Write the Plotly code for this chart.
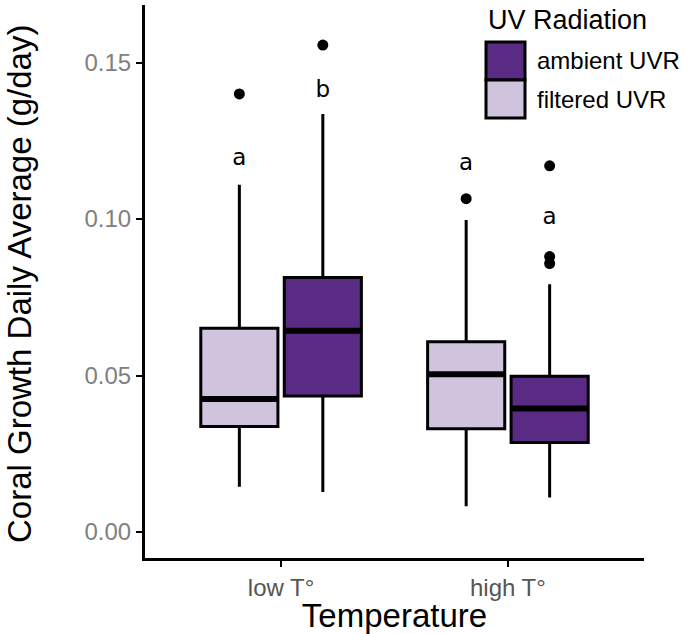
import plotly.graph_objects as go

# categories
temps = ["low T°", "high T°"]

# box statistics (g/day)
filt_q1 = [0.0337, 0.0330]
filt_med = [0.0425, 0.0504]
filt_q3 = [0.0651, 0.0608]
filt_lo = [0.0145, 0.0082]
filt_hi = [0.1110, 0.0997]

amb_q1 = [0.0435, 0.0286]
amb_med = [0.0643, 0.0395]
amb_q3 = [0.0813, 0.0498]
amb_lo = [0.0128, 0.0110]
amb_hi = [0.1336, 0.0792]

# outliers
filt_out_x = ["low T°", "high T°"]
filt_out_y = [0.1400, 0.1065]
amb_out_x = ["low T°", "high T°", "high T°", "high T°"]
amb_out_y = [0.1556, 0.1170, 0.0880, 0.0858]

# significance letters
filt_lab = ["a", "a"]
filt_lab_y = [0.1190, 0.1175]
amb_lab = ["b", "a"]
amb_lab_y = [0.1408, 0.1004]

AMB_COL = "#5a2b85"
FILT_COL = "#d0c3dd"
FONT = "Liberation Sans, Arial, sans-serif"

# plot area in page pixels (used for the hand-drawn legend / title)
W, H = 685, 634
L, R, T, B = 145, 41, 5, 76
PW, PH = W - L - R, H - T - B


def px(x):
    return (x - L) / PW


def py(y):
    return (H - B - y) / PH


fig = go.Figure()

series = [
    ("filtered UVR", FILT_COL, filt_q1, filt_med, filt_q3, filt_lo, filt_hi),
    ("ambient UVR", AMB_COL, amb_q1, amb_med, amb_q3, amb_lo, amb_hi),
]

for name, col, q1, med, q3, lo, hi in series:
    fig.add_trace(go.Box(
        x=temps, q1=q1, median=med, q3=q3, lowerfence=lo, upperfence=hi,
        name=name, offsetgroup=name, fillcolor=col,
        line=dict(color="black", width=3), whiskerwidth=0,
        boxpoints=False, showlegend=False, hoverinfo="skip",
    ))
    # thicker median line, ggplot style
    fig.add_trace(go.Box(
        x=temps, q1=med, median=med, q3=med, lowerfence=med, upperfence=med,
        name=name + " median", offsetgroup=name, fillcolor="black",
        line=dict(color="black", width=6), whiskerwidth=0,
        boxpoints=False, showlegend=False, hoverinfo="skip",
    ))

for name, ox, oy, lab, laby in [
    ("filtered UVR", filt_out_x, filt_out_y, filt_lab, filt_lab_y),
    ("ambient UVR", amb_out_x, amb_out_y, amb_lab, amb_lab_y),
]:
    fig.add_trace(go.Scatter(
        x=ox, y=oy, mode="markers", offsetgroup=name,
        marker=dict(color="black", size=11), showlegend=False,
        hoverinfo="skip", cliponaxis=False,
    ))
    fig.add_trace(go.Scatter(
        x=temps, y=laby, mode="text", text=lab, offsetgroup=name,
        textposition="middle center",
        textfont=dict(family="DejaVu Sans", size=23, color="black"),
        showlegend=False, hoverinfo="skip", cliponaxis=False,
    ))

# legend drawn by hand to get the big ggplot keys
shapes = [
    dict(type="rect", xref="paper", yref="paper",
         x0=px(486), x1=px(525), y0=py(42), y1=py(80),
         fillcolor=AMB_COL, line=dict(color="black", width=3)),
    dict(type="rect", xref="paper", yref="paper",
         x0=px(486), x1=px(525), y0=py(80), y1=py(118),
         fillcolor=FILT_COL, line=dict(color="black", width=3)),
]
annotations = [
    dict(text="UV Radiation", x=px(486), y=py(20), xref="paper", yref="paper",
         xanchor="left", yanchor="middle", showarrow=False,
         font=dict(family=FONT, size=27, color="black")),
    dict(text="ambient UVR", x=px(535), y=py(61), xref="paper", yref="paper",
         xanchor="left", yanchor="middle", showarrow=False,
         font=dict(family=FONT, size=24, color="black")),
    dict(text="filtered UVR", x=px(535), y=py(99), xref="paper", yref="paper",
         xanchor="left", yanchor="middle", showarrow=False,
         font=dict(family=FONT, size=24, color="black")),
    # y title as annotation so it can sit right at the left edge
    dict(text="Coral Growth Daily Average (g/day)", textangle=-90,
         x=px(19), y=py(284), xref="paper", yref="paper",
         xanchor="center", yanchor="middle", showarrow=False,
         font=dict(family=FONT, size=33, color="black")),
]

fig.update_layout(
    width=W, height=H,
    margin=dict(l=L, r=R, t=T, b=B),
    plot_bgcolor="white", paper_bgcolor="white",
    boxmode="group", boxgap=0.264, boxgroupgap=0.076,
    scattermode="group", scattergap=0.264,
    showlegend=False,
    shapes=shapes, annotations=annotations,
    font=dict(family=FONT),
)

fig.update_xaxes(
    type="category", categoryorder="array", categoryarray=temps,
    range=[-0.6, 1.6], automargin=False,
    showline=True, linecolor="black", linewidth=3,
    ticks="outside", ticklen=6, tickwidth=2, tickcolor="black",
    tickfont=dict(family=FONT, size=24, color="#555555"),
    showgrid=False, zeroline=False,
    title=dict(text="Temperature", font=dict(family=FONT, size=33, color="black"),
               standoff=2),
)
fig.update_yaxes(
    range=[-0.0083, 0.1684], tick0=0, dtick=0.05, tickformat=".2f",
    automargin=False,
    showline=True, linecolor="black", linewidth=3,
    ticks="outside", ticklen=6, tickwidth=2, tickcolor="black",
    tickfont=dict(family=FONT, size=24, color="#808080"),
    showgrid=False, zeroline=False,
)

fig.write_html(
    "out.html",
    config={"displayModeBar": False},
    post_script="document.body.style.margin='0';",
)
